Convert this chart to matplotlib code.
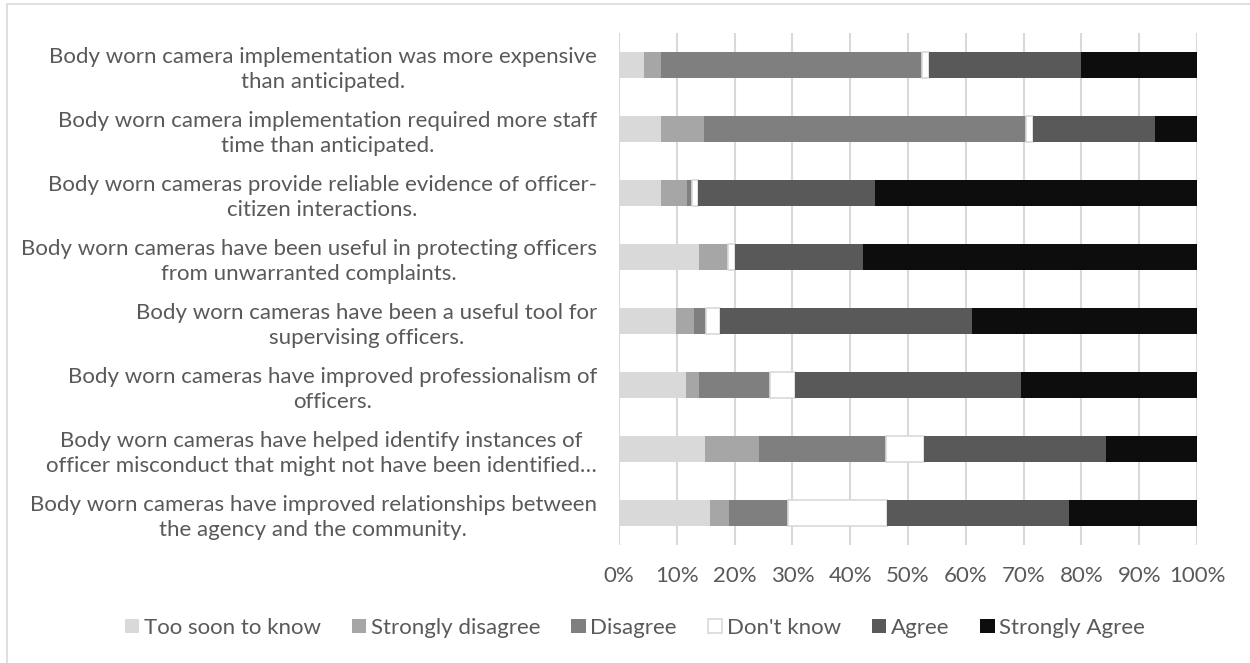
import numpy as np
import matplotlib.pyplot as plt
from matplotlib.patches import Rectangle

plt.rcParams['font.family'] = ['Lato', 'DejaVu Sans']

# survey statements, top to bottom
statements = ['Body worn camera implementation was more expensive\nthan anticipated.',
              'Body worn camera implementation required more staff\ntime than anticipated.',
              'Body worn cameras provide reliable evidence of officer-\ncitizen interactions.',
              'Body worn cameras have been useful in protecting officers\nfrom unwarranted complaints.',
              'Body worn cameras have been a useful tool for\nsupervising officers.',
              'Body worn cameras have improved professionalism of\nofficers.',
              'Body worn cameras have helped identify instances of\nofficer misconduct that might not have been identified\u2026',
              'Body worn cameras have improved relationships between\nthe agency and the community.']

responses = ['Too soon to know', 'Strongly disagree', 'Disagree', "Don't know", 'Agree', 'Strongly Agree']

# percent of respondents per answer, same order as statements
too_soon = [4.3, 7.3, 7.3, 13.8, 9.8, 11.6, 14.8, 15.8]
strongly_disagree = [3.0, 7.4, 4.4, 5.0, 3.2, 2.2, 9.5, 3.2]
disagree = [45.2, 55.7, 0.9, 0.0, 2.1, 12.4, 21.9, 10.3]
dont_know = [1.2, 1.2, 1.1, 1.2, 2.3, 4.3, 6.5, 17.0]
agree = [26.3, 21.1, 30.6, 22.2, 43.6, 39.0, 31.6, 31.6]
strongly_agree = [20.0, 7.3, 55.7, 57.8, 39.0, 30.5, 15.7, 22.1]

series = [too_soon, strongly_disagree, disagree, dont_know, agree, strongly_agree]
colors = ['#D9D9D9', '#A6A6A6', '#7F7F7F', '#FFFFFF', '#595959', '#0D0D0D']
edges = ['none', 'none', 'none', '#D9D9D9', 'none', 'none']
txt = '#595959'
fs = 16

fig = plt.figure(figsize=(12.5, 6.63), dpi=100)
ax = fig.add_axes([0.4952, 0.178, 0.4624, 0.7722])

y = np.arange(len(statements))
left = np.zeros(len(statements))
for vals, name, c, ec in zip(series, responses, colors, edges):
    vals = np.array(vals)
    ax.barh(y, vals, left=left, height=0.4, color=c, edgecolor=ec,
            linewidth=1.2, label=name, zorder=3)
    left += vals

ax.set_xlim(0, 100)
ax.set_ylim(len(statements) - 0.5, -0.5)
ax.set_xticks(np.arange(0, 101, 10))
ax.set_xticklabels([f'{v}%' for v in range(0, 101, 10)])
ax.set_yticks(y)
ax.set_yticklabels(statements)
for t in ax.get_yticklabels():
    t.set_multialignment('center')
    t.set_linespacing(1.3)

ax.grid(axis='x', color='#D9D9D9', linewidth=1.5, zorder=0)
for s in ax.spines.values():
    s.set_visible(False)
ax.tick_params(axis='both', length=0, labelsize=fs, colors=txt)
ax.tick_params(axis='y', pad=16)
ax.tick_params(axis='x', pad=15)

fig.legend(loc='center', bbox_to_anchor=(0.508, 0.053), ncol=6, frameon=False,
           fontsize=fs, labelcolor=txt, handlelength=0.65, handleheight=0.65,
           handletextpad=0.2, columnspacing=1.4)

# chart area border
fig.patches.append(Rectangle((0.0056, -0.01), 1.0, 1.004, transform=fig.transFigure,
                             fill=False, edgecolor='#D9D9D9', linewidth=1.2))

plt.savefig('out.png')
